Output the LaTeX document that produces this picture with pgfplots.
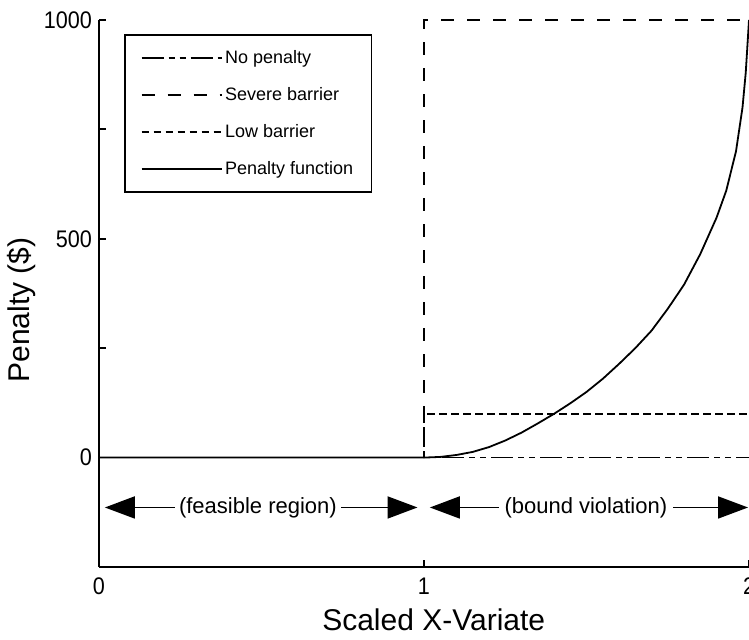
\documentclass[border=0pt]{standalone}
\usepackage{fontspec}
\setmainfont{Liberation Sans}
\newfontfamily\tickfont[FakeStretch=0.9]{Liberation Sans}
\usepackage{pgfplots}
\usepackage{pgfplotstable}
\pgfplotsset{compat=1.18}
\usetikzlibrary{arrows.meta}

\pgfplotstableread{
x y
0 0
2 0
}\nopenalty
\pgfplotstableread{
x y
0 0
1 0
1 1000
2 1000
}\severe
\pgfplotstableread{
x y
0 0
1 0
1 100
2 100
}\low
\pgfplotstableread{
x y
0 0
1 0
1.05 1.5
1.1 6
1.15 13
1.2 24
1.25 39
1.3 57
1.35 78
1.4 100
1.45 124
1.5 150
1.55 180
1.6 214
1.65 250
1.7 290
1.75 340
1.8 395
1.85 465
1.9 548
1.93 610
1.96 700
1.98 800
1.99 880
2 1000
}\penfun

\begin{document}
\begin{tikzpicture}
\begin{axis}[
  scale only axis, width=325pt, height=273.5pt,
  xmin=0, xmax=2, ymin=-250, ymax=1000,
  axis x line*=bottom, axis y line*=left,
  axis line style={-, line width=0.9pt},
  xtick={0,1,2}, xticklabels={0,1,2},
  ytick={0,500,1000}, yticklabels={0,500,1000},
  minor ytick={250,750},
  tick align=inside, major tick length=3.5pt, minor tick length=3.5pt,
  every tick/.style={line width=0.9pt, black},
  ticklabel style={font=\tickfont\fontsize{12}{14}\selectfont},
  xticklabel style={yshift=-2pt},
  xlabel={Scaled X-Variate}, ylabel={Penalty (\$)},
  every axis x label/.style={at={(axis description cs:0.515,-0.0969)}, anchor=center, font=\fontsize{15}{18}\selectfont},
  every axis y label/.style={at={(axis description cs:-0.1185,0.47)}, anchor=center, rotate=90, font=\fontsize{15}{18}\selectfont},
  clip=false,
  legend image code/.code={\draw[#1] (0pt,0pt) -- (40pt,0pt);},
  legend cell align=left,
  legend style={at={(0.0385,0.974)}, anchor=north west, draw=black, line width=0.8pt,
    font=\fontsize{9}{10.8}\selectfont, inner xsep=8pt, inner ysep=7.5pt, row sep=10.5pt,
    nodes={inner xsep=1.2pt, inner ysep=0pt}},
]
\addplot[black, line width=0.9pt, dash pattern=on 11pt off 2.5pt on 3pt off 2.5pt on 3pt off 2.5pt] table {\nopenalty};
\addlegendentry{No penalty}
\addplot[black, line width=0.9pt, dash pattern=on 6.5pt off 6.5pt] table {\severe};
\addlegendentry{Severe barrier}
\addplot[black, line width=0.9pt, dash pattern=on 3.75pt off 2.25pt] table {\low};
\addlegendentry{Low barrier}
\addplot[black, line width=0.9pt] table {\penfun};
\addlegendentry{Penalty function}

\draw[line width=0.9pt, {Triangle[length=15pt,width=11pt]}-{Triangle[length=15pt,width=11pt]}] (axis cs:0.018,-114) -- (axis cs:0.98,-114);
\node[fill=white, inner xsep=2pt, font=\fontsize{11}{13}\selectfont] at (axis cs:0.489,-114) {(feasible region)};
\draw[line width=0.9pt, {Triangle[length=15pt,width=11pt]}-{Triangle[length=15pt,width=11pt]}] (axis cs:1.018,-114) -- (axis cs:1.997,-114);
\node[fill=white, inner xsep=3pt, font=\fontsize{11}{13}\selectfont] at (axis cs:1.498,-114) {(bound violation)};

\coordinate (ll) at (rel axis cs:0,0);
\coordinate (ur) at (rel axis cs:1,1);
\end{axis}
\pgfresetboundingbox
\useasboundingbox ([xshift=-49.5pt,yshift=-36.5pt]ll) rectangle ([yshift=10pt]ur);
\end{tikzpicture}
\end{document}
